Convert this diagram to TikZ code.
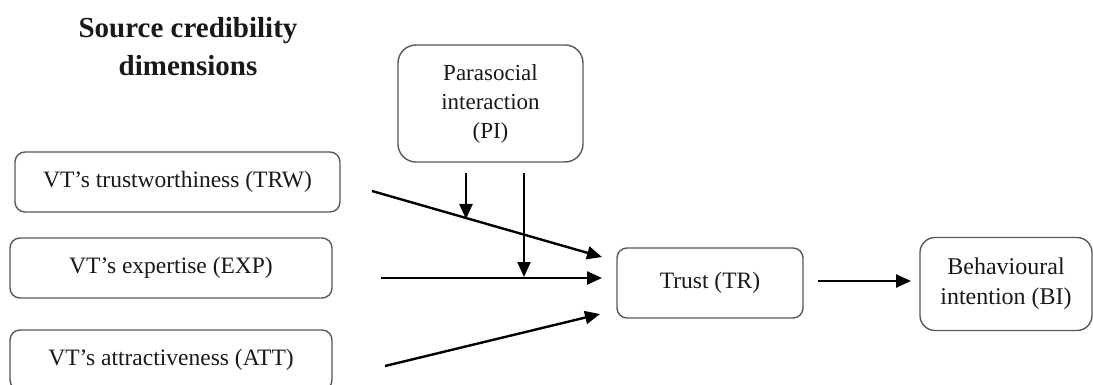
\documentclass[tikz,border=0pt]{standalone}
\usepackage{fontspec}
\setmainfont{Liberation Serif}
\usetikzlibrary{arrows.meta}
\begin{document}
\begin{tikzpicture}[x=1pt,y=-1pt,
  box/.style={draw=black!65,line width=1.4pt,rounded corners=10pt,inner sep=0pt,
    text=black!90,font=\fontsize{23.5}{29}\selectfont,align=center},
  arr/.style={line width=2.4pt,-{Triangle[length=15pt,width=13pt]}}]
\useasboundingbox (0,0) rectangle (1093,385);
\fill[white] (0,0) rectangle (1093,385);
\node[font=\fontsize{29}{38}\bfseries\selectfont,align=center,text=black!90] (title) at (188,47)
  {Source credibility\\dimensions};
\node[box,minimum width=325pt,minimum height=60pt] (trw) at (177.5,182) {VT's trustworthiness (TRW)};
\node[box,minimum width=322pt,minimum height=60pt] (exp) at (171,268) {VT's expertise (EXP)};
\node[box,minimum width=322pt,minimum height=60pt] (att) at (171,360) {VT's attractiveness (ATT)};
\node[box,rounded corners=18pt,minimum width=185pt,minimum height=117pt,
  font=\fontsize{23}{29}\selectfont] (pi) at (490.5,103.5)
  {Parasocial\\interaction\\(PI)};
\node[box,minimum width=186pt,minimum height=70pt] (tr) at (710,283) {Trust (TR)};
\node[box,rounded corners=15pt,minimum width=172pt,minimum height=93pt,
  font=\fontsize{24}{30}\selectfont] (bi) at (1006,284)
  {Behavioural\\intention (BI)};
\coordinate (s1) at (372,191);
\coordinate (e1) at (602,257);
\coordinate (s2) at (381,278);
\coordinate (e2) at (602,278);
\coordinate (s3) at (385,366);
\coordinate (e3) at (600,314);
\coordinate (p1s) at (466,173);
\coordinate (p1e) at (466,219);
\coordinate (p2s) at (524,173);
\coordinate (p2e) at (524,277);
\coordinate (t1) at (818,281);
\coordinate (t2) at (911,281);
\draw[arr] (s1) -- (e1);
\draw[arr] (s2) -- (e2);
\draw[arr] (s3) -- (e3);
\draw[arr] (p1s) -- (p1e);
\draw[arr] (p2s) -- (p2e);
\draw[arr] (t1) -- (t2);
\end{tikzpicture}
\end{document}
